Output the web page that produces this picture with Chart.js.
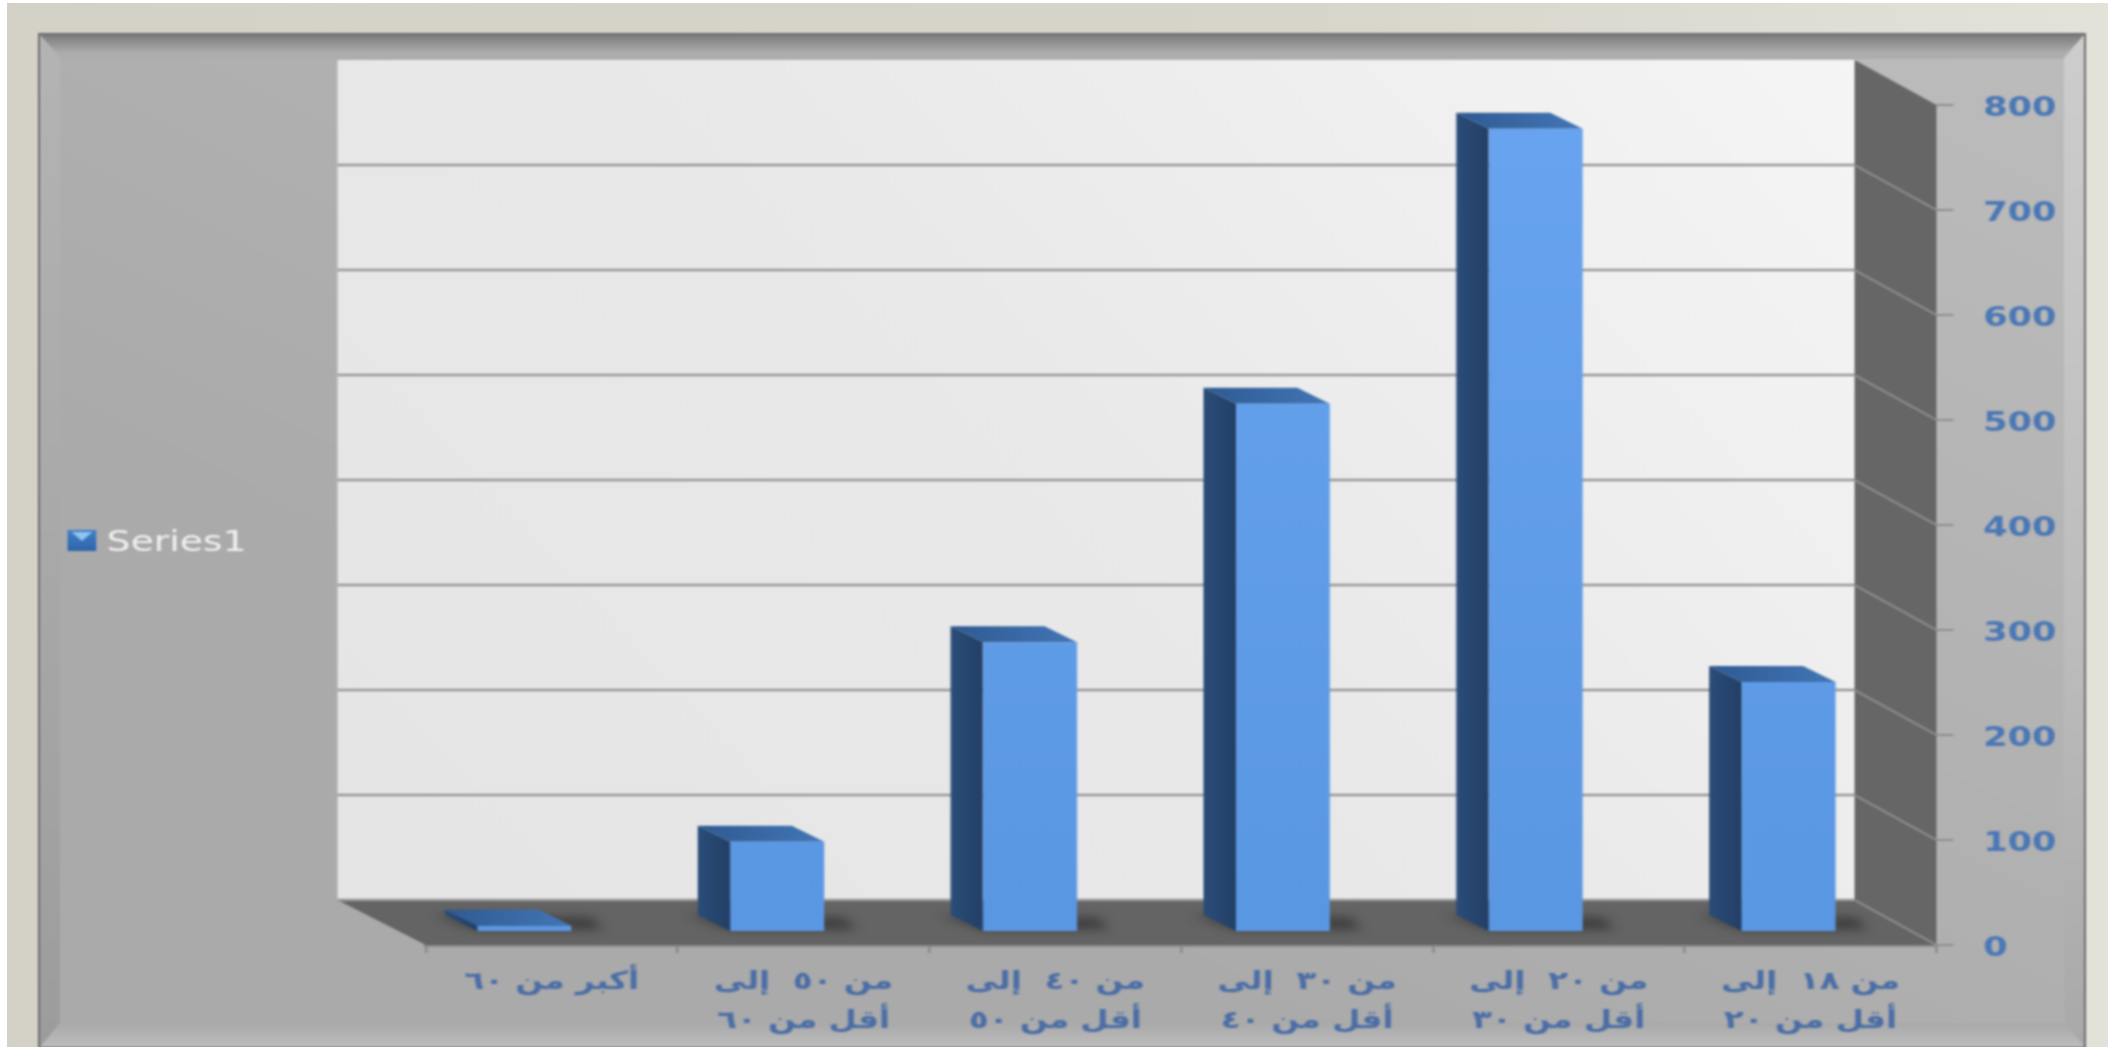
<!DOCTYPE html>
<html lang="ar">
<head>
<meta charset="utf-8">
<title>Series1</title>
<style>
  html, body { margin: 0; height: 100%; overflow: hidden; background: #fff; }
  .page { position: absolute; left: 7px; top: 3px; right: 0; bottom: 0; background: linear-gradient(90deg, #d4d2c7, #d7d5ca 60%, #e3e2d9); }
  .frame { position: absolute; left: 38px; top: 33px; width: 2048px; height: 1016px; filter: blur(1px); }
  .panel { position: absolute; inset: 0; outline: 2px solid #6c6c6c; outline-offset: -2px; background: linear-gradient(to top right, #aaaaaa 30%, #bcbcbc 100%); }
  .bevel { position: absolute; }
  .bevel.top { left: 2px; right: 2px; top: 2px; height: 24px; background: linear-gradient(180deg, #7c7c7c, #adadad 75%); clip-path: polygon(0 0, 100% 0, calc(100% - 22px) 100%, 22px 100%); }
  .bevel.left { left: 2px; top: 2px; bottom: 2px; width: 20px; background: linear-gradient(180deg, #b4b4b4, #a4a4a4 70%, #9c9c9c); clip-path: polygon(0 0, 100% 24px, 100% calc(100% - 24px), 0 100%); }
  .bevel.right { right: 2px; top: 2px; bottom: 2px; width: 20px; background: linear-gradient(180deg, #cdcdcd, #bcbcbc 60%, #a9a9a9); clip-path: polygon(100% 0, 0 24px, 0 calc(100% - 24px), 100% 100%); }
  .bevel.bottom { left: 2px; right: 2px; bottom: 2px; height: 24px; background: linear-gradient(180deg, #a9a9a9, #bdbdbd); clip-path: polygon(20px 0, calc(100% - 20px) 0, 100% 100%, 0 100%); }
  #chart { position: absolute; left: 0; top: 0; transform-origin: 0 0; transform: scaleX(1.2996); filter: blur(1px); }
</style>
</head>
<body>
<div class="page"></div>
<div class="frame">
  <div class="panel"></div>
  <div class="bevel top"></div>
  <div class="bevel left"></div>
  <div class="bevel right"></div>
  <div class="bevel bottom"></div>
</div>
<canvas id="chart" width="1622" height="1047"></canvas>
<script src="https://cdn.jsdelivr.net/npm/chart.js@4"></script>
<script>
// ─── Data ─────────────────────────────────────────────────────────────────────
const categories = [
  ['من ١٨  إلى', 'أقل من ٢٠'],
  ['من ٢٠  إلى', 'أقل من ٣٠'],
  ['من ٣٠  إلى', 'أقل من ٤٠'],
  ['من ٤٠  إلى', 'أقل من ٥٠'],
  ['من ٥٠  إلى', 'أقل من ٦٠'],
  'أكبر من ٦٠'
];
const seriesName = 'Series1';
const seriesValues = [238, 765, 503, 276, 86, 6];
const yMax = 800;
const yStep = 100;

// ─── 3D look ──────────────────────────────────────────────────────────────────
const BACK_LEFT = 68, BACK_RIGHT = 63, BACK_UP = 45;   // floor / wall depth
const BAR_SHIFT_X = -16.5, BAR_LEAN = 5, BAR_SHIFT_Y = -13;  // bars stand mid-floor
const BAR_DEPTH_X = -25, BAR_DEPTH_Y = -16;

function poly(ctx, pts, fill) {
  ctx.beginPath();
  pts.forEach((p, i) => i ? ctx.lineTo(p[0], p[1]) : ctx.moveTo(p[0], p[1]));
  ctx.closePath();
  ctx.fillStyle = fill;
  ctx.fill();
}

function line(ctx, x1, y1, x2, y2, color, width) {
  ctx.beginPath();
  ctx.moveTo(x1, y1);
  ctx.lineTo(x2, y2);
  ctx.strokeStyle = color;
  ctx.lineWidth = width;
  ctx.stroke();
}

const box3d = {
  id: 'box3d',
  // perspective: bars further left sit a little further from their axis slot
  afterDatasetsUpdate(chart) {
    const a = chart.chartArea;
    chart.getDatasetMeta(0).data.forEach(b => {
      b.x += BAR_SHIFT_X - BAR_LEAN * (a.right - b.x) / a.width;
    });
  },
  beforeDatasetsDraw(chart) {
    const { ctx, chartArea: a, scales: { y } } = chart;
    const bl = a.left - BACK_LEFT, br = a.right - BACK_RIGHT;
    const top = a.top - BACK_UP, bottom = a.bottom - BACK_UP;
    ctx.save();

    // back wall
    const wall = ctx.createLinearGradient(bl, bottom, br, top);
    wall.addColorStop(0, '#e5e5e5');
    wall.addColorStop(0.5, '#e9e9e9');
    wall.addColorStop(1, '#f5f5f5');
    ctx.fillStyle = wall;
    ctx.fillRect(bl, top, br - bl, bottom - top);

    // side wall and floor
    poly(ctx, [[br, top], [a.right, a.top], [a.right, a.bottom], [br, bottom]], '#666666');
    poly(ctx, [[bl, bottom], [br, bottom], [a.right, a.bottom], [a.left, a.bottom]], '#646464');

    // gridlines wrap from the back wall onto the side wall
    y.ticks.forEach(t => {
      const py = y.getPixelForValue(t.value);
      if (t.value === yMax) return;
      line(ctx, bl, py - BACK_UP, br, py - BACK_UP, '#979797', 2.5);
      line(ctx, br, py - BACK_UP, a.right, py, '#8f8f8f', 2);
    });

    // bar shadows on the floor, then depth faces
    const bars = chart.getDatasetMeta(0).data;
    ctx.translate(0, BAR_SHIFT_Y);
    bars.forEach(b => {
      const l = b.x - b.width / 2, r = b.x + b.width / 2;
      ctx.save();
      ctx.filter = 'blur(5px)';
      poly(ctx, [[l + BAR_DEPTH_X - 8, b.base - 16], [r + 16, b.base - 14], [r + 24, b.base - 1], [l, b.base - 1]], 'rgba(35,35,35,.55)');
      ctx.restore();
    });
    bars.forEach(b => {
      const l = b.x - b.width / 2, r = b.x + b.width / 2;
      const side = ctx.createLinearGradient(l + BAR_DEPTH_X, 0, l, 0);
      side.addColorStop(0, '#2a4d78');
      side.addColorStop(1, '#233f66');
      poly(ctx, [[l + BAR_DEPTH_X, b.y + BAR_DEPTH_Y], [l, b.y], [l, b.base], [l + BAR_DEPTH_X, b.base + BAR_DEPTH_Y]], side);
      const lid = ctx.createLinearGradient(l + BAR_DEPTH_X, 0, r, 0);
      lid.addColorStop(0, '#2e5a92');
      lid.addColorStop(1, '#4376b6');
      poly(ctx, [[l, b.y], [r, b.y], [r + BAR_DEPTH_X, b.y + BAR_DEPTH_Y], [l + BAR_DEPTH_X, b.y + BAR_DEPTH_Y]], lid);
    });
    ctx.restore();

    // native bars get the same drop
    ctx.save();
    ctx.translate(0, BAR_SHIFT_Y);
  },
  afterDatasetsDraw(chart) {
    chart.ctx.restore();
  },
  afterDraw(chart) {
    // legend: little bevelled key and the series name
    const ctx = chart.ctx;
    ctx.save();
    const key = ctx.createLinearGradient(0, 530, 0, 551);
    key.addColorStop(0, '#3f7fc8');
    key.addColorStop(1, '#2f65a8');
    ctx.fillStyle = key;
    ctx.fillRect(52, 530, 22, 21);
    poly(ctx, [[55, 532], [71, 532], [63, 541]], '#8fc4f2');
    ctx.font = '29px "DejaVu Sans"';
    ctx.fillStyle = '#f1f1f1';
    ctx.textBaseline = 'middle';
    ctx.fillText(chart.data.datasets[0].label, 82, 543);
    ctx.restore();
  }
};

// ─── Chart ────────────────────────────────────────────────────────────────────
new Chart(document.getElementById('chart'), {
  type: 'bar',
  data: {
    labels: categories,
    datasets: [{
      label: seriesName,
      data: seriesValues,
      barPercentage: 0.373,
      categoryPercentage: 1,
      clip: false,
      backgroundColor: c => {
        const a = c.chart.chartArea;
        if (!a) return '#5e9be7';
        const g = c.chart.ctx.createLinearGradient(0, a.top, 0, a.bottom);
        g.addColorStop(0, '#68a4f0');
        g.addColorStop(1, '#5a97e3');
        return g;
      }
    }]
  },
  options: {
    responsive: false,
    animation: false,
    devicePixelRatio: 1,
    layout: { padding: { left: 327.7, top: 105, right: 0, bottom: 0 } },
    plugins: { legend: { display: false }, tooltip: { enabled: false } },
    scales: {
      x: {
        reverse: true,
        afterFit: s => { s.height = 102; },
        grid: { drawOnChartArea: false, tickLength: 8, color: '#8a8a8a', lineWidth: 2 },
        border: { color: '#8a8a8a', width: 3 },
        ticks: {
          autoSkip: false, maxRotation: 0, padding: 10, color: '#4a6da5',
          font: { family: 'DejaVu Sans', size: 25, weight: 'bold', lineHeight: 1.55 }
        }
      },
      y: {
        position: 'right',
        min: 0,
        max: yMax,
        afterFit: s => { s.width = 132; },
        grid: { drawOnChartArea: false, tickLength: 13, color: '#8f8f8f', lineWidth: 2 },
        border: { display: false },
        ticks: {
          stepSize: yStep, padding: 23, labelOffset: 4, color: '#4a77b5',
          font: { family: 'DejaVu Sans', size: 27, weight: 'bold' }
        }
      }
    }
  },
  plugins: [box3d]
});
</script>
</body>
</html>
